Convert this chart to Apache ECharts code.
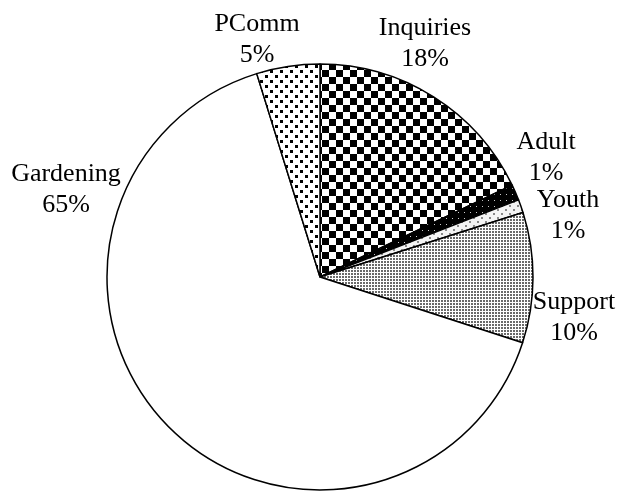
<!DOCTYPE html>
<html>
<head>
<meta charset="utf-8">
<script src="https://cdn.jsdelivr.net/npm/echarts@6/dist/echarts.min.js"></script>
<style>
  html, body { margin: 0; padding: 0; background: #fff; }
  #chart { width: 619px; height: 492px; }
</style>
</head>
<body>
<div id="chart"></div>
<script>
// slices, clockwise from 12 o'clock
const categories = ["Inquiries", "Adult", "Youth", "Support", "Gardening", "PComm"];
const shares = [17.9, 1.2, 1.0, 9.9, 65.2, 4.8];

// where each label block sits (centre of the two text lines)
const labelSpots = [[425, 44], [546, 158], [568, 216], [574, 318], [66, 190], [257, 40]];

// small tiles used as fill patterns
function makeTile(size, bg, draw) {
  const c = document.createElement("canvas");
  c.width = size;
  c.height = size;
  const ctx = c.getContext("2d");
  ctx.fillStyle = bg;
  ctx.fillRect(0, 0, size, size);
  draw(ctx);
  return { image: c, repeat: "repeat" };
}

const fills = [
  // checkerboard
  makeTile(14, "#fff", ctx => {
    ctx.fillStyle = "#000";
    ctx.fillRect(0, 0, 7, 7);
    ctx.fillRect(7, 7, 7, 7);
  }),
  // black with light dots
  makeTile(6, "#000", ctx => {
    ctx.fillStyle = "#ccc";
    ctx.fillRect(2, 2, 1, 1);
  }),
  // white with sparse dots
  makeTile(8, "#f4f4f4", ctx => {
    ctx.fillStyle = "#888";
    ctx.fillRect(1, 1, 2, 2);
    ctx.fillRect(5, 5, 2, 2);
  }),
  // fine grey dots
  makeTile(3, "#fff", ctx => {
    ctx.fillStyle = "#6a6a6a";
    ctx.fillRect(0, 0, 2, 2);
  }),
  "#fff",
  // large confetti
  makeTile(10, "#fff", ctx => {
    ctx.fillStyle = "#000";
    ctx.fillRect(0, 0, 3, 3);
    ctx.fillRect(5, 5, 3, 3);
  })
];

var myChart = echarts.init(document.getElementById("chart"));
var option = {
  animation: false,
  series: [
    {
      type: "pie",
      center: [320, 277],
      radius: 213,
      startAngle: 90,
      clockwise: true,
      percentPrecision: 0,
      avoidLabelOverlap: false,
      data: categories.map((name, i) => ({
        name: name,
        value: shares[i],
        itemStyle: { color: fills[i] }
      })),
      itemStyle: {
        borderColor: "#000",
        borderWidth: 1.5
      },
      emphasis: { disabled: true },
      label: {
        show: true,
        position: "outside",
        formatter: "{b}\n{d}%",
        fontFamily: "Liberation Serif",
        fontSize: 26,
        lineHeight: 31,
        color: "#000"
      },
      labelLine: { show: false },
      labelLayout: function(params) {
        const p = labelSpots[params.dataIndex];
        return { x: p[0], y: p[1], align: "center", verticalAlign: "middle" };
      }
    }
  ]
};
myChart.setOption(option);
</script>
</body>
</html>
